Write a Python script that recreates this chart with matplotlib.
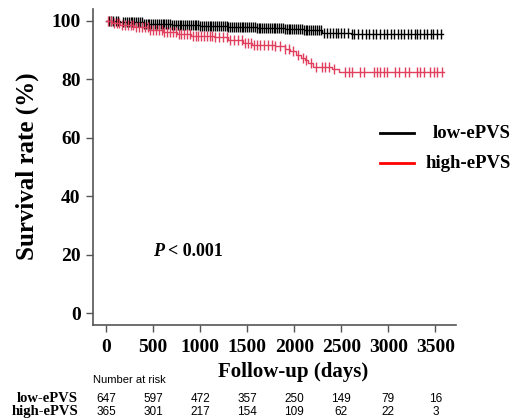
import numpy as np
import matplotlib
matplotlib.use('Agg')
import matplotlib.pyplot as plt

# step curves (day, survival %)
low_t = [0, 150, 400, 700, 1000, 1300, 1600, 1900, 2100, 2300, 2600]
low_s = [100, 99.5, 99.0, 98.6, 98.2, 97.8, 97.4, 97.0, 96.8, 95.9, 95.6]
low_end = 3580
high_t = [0, 60, 150, 300, 450, 600, 750, 900, 1150, 1300, 1450, 1550, 1800,
          1900, 1960, 2020, 2070, 2110, 2150, 2200, 2400, 2480]
high_s = [100, 99.3, 98.6, 97.8, 96.9, 96.2, 95.4, 94.8, 94.3, 93.5, 92.5, 91.8,
          91.2, 90.3, 89.5, 88.4, 87.2, 86.4, 85.5, 84.3, 83.6, 82.5]
high_end = 3590

# censoring times (days)
low_cens = [30, 50, 70, 100, 130, 180, 200, 220, 240, 260, 280, 300, 320, 340,
            360, 380, 400, 420, 440, 460, 480, 500, 520, 540, 560, 580, 600,
            620, 640, 660, 680, 700, 720, 740, 760, 780, 800, 820, 840, 860,
            880, 900, 920, 940, 960, 980, 1000, 1020, 1040, 1060, 1080, 1100,
            1120, 1140, 1160, 1180, 1200, 1220, 1240, 1260, 1280, 1300, 1320,
            1340, 1360, 1380, 1400, 1420, 1440, 1460, 1480, 1500, 1520, 1540,
            1560, 1580, 1600, 1620, 1640, 1660, 1680, 1700, 1720, 1740, 1760,
            1780, 1800, 1820, 1840, 1860, 1880, 1900, 1920, 1940, 1960, 1980,
            2000, 2020, 2040, 2060, 2080, 2100, 2120, 2140, 2160, 2180, 2200,
            2220, 2240, 2260, 2280, 2320, 2350, 2380, 2410, 2440, 2470, 2500,
            2530, 2570, 2610, 2640, 2680, 2720, 2760, 2800, 2840, 2870, 2910,
            2950, 2990, 3030, 3060, 3100, 3140, 3170, 3210, 3240, 3280, 3310,
            3340, 3380, 3410, 3450, 3480, 3520, 3560]
high_cens = [20, 50, 80, 110, 140, 170, 200, 230, 260, 290, 320, 350, 380, 410,
             440, 470, 500, 530, 560, 590, 620, 650, 680, 710, 740, 770, 800,
             830, 860, 890, 920, 950, 980, 1010, 1040, 1070, 1100, 1130, 1160,
             1200, 1240, 1280, 1320, 1360, 1400, 1440, 1480, 1510, 1540, 1570,
             1600, 1640, 1680, 1720, 1760, 1800, 1850, 1900, 1940, 1990, 2040,
             2090, 2130, 2180, 2230, 2295, 2330, 2365, 2418, 2543, 2578, 2613,
             2702, 2737, 2844, 2879, 2915, 2950, 2986, 3074, 3110, 3181, 3216,
             3305, 3340, 3376, 3447, 3482, 3518, 3571]

risk_times = [0, 500, 1000, 1500, 2000, 2500, 3000, 3500]
risk_low = [647, 597, 472, 357, 250, 149, 79, 16]
risk_high = [365, 301, 217, 154, 109, 62, 22, 3]

black = '#000000'
red = '#E0405E'
serif = 'Liberation Serif'
sans = 'Liberation Sans'

W, H = 512, 420
fig = plt.figure(figsize=(W / 100, H / 100), dpi=100)
ax = fig.add_axes([93 / W, 1 - 325 / H, (456 - 93) / W, (325 - 9) / H])


def draw(t, s, end, cens, color, mew):
    tt = np.array(t + [end])
    ss = np.array(s + [s[-1]])
    ax.step(tt, ss, where='post', color=color, lw=1.0)
    c = np.array(cens)
    idx = np.searchsorted(np.array(t), c, side='right') - 1
    ax.plot(c, np.array(s)[idx], ls='none', marker='|', ms=7, mew=mew, color=color)


draw(low_t, low_s, low_end, low_cens, black, 1.0)
draw(high_t, high_s, high_end, high_cens, red, 1.0)

ax.set_xlim(-140, 3720)
ax.set_ylim(-4.1, 104)
ax.set_xticks(risk_times)
ax.set_yticks([0, 20, 40, 60, 80, 100])
for sp in ['top', 'right']:
    ax.spines[sp].set_visible(False)
for sp in ['left', 'bottom']:
    ax.spines[sp].set_color('#555555')
    ax.spines[sp].set_linewidth(1.2)
ax.tick_params(direction='out', length=5, width=1.0, color='#555555',
               labelsize=14)
ax.tick_params(axis='y', pad=4)
ax.tick_params(axis='x', pad=5)
for lab in ax.get_xticklabels() + ax.get_yticklabels():
    lab.set_fontfamily(serif)
    lab.set_fontweight('bold')

fig.text(27 / W, 1 - 166 / H, 'Survival rate (%)', rotation=90, ha='center',
         va='center', fontsize=18, fontweight='bold', family=serif)
fig.text(293 / W, 1 - 372 / H, 'Follow-up (days)', ha='center', va='center',
         fontsize=15, fontweight='bold', family=serif)

# p value
fig.text(153 / W, 1 - 252 / H, 'P', ha='left', va='center', fontsize=13,
         fontweight='bold', style='italic', family=serif)
fig.text(168 / W, 1 - 252 / H, '< 0.001', ha='left', va='center', fontsize=13,
         fontweight='bold', family=serif)

# legend
fig.add_artist(plt.Line2D([380 / W, 414 / W], [1 - 133 / H, 1 - 133 / H],
                          color='black', lw=2))
fig.add_artist(plt.Line2D([380 / W, 414 / W], [1 - 163 / H, 1 - 163 / H],
                          color='#FF0000', lw=2))
fig.text(511 / W, 1 - 133 / H, 'low-ePVS', ha='right', va='center',
         fontsize=13.5, fontweight='bold', family=serif)
fig.text(511 / W, 1 - 163 / H, 'high-ePVS', ha='right', va='center',
         fontsize=13.5, fontweight='bold', family=serif)

# number at risk table
fig.text(93 / W, 1 - 380 / H, 'Number at risk', ha='left', va='center',
         fontsize=8, family=sans)
fig.text(78 / W, 1 - 399 / H, 'low-ePVS', ha='right', va='center',
         fontsize=10.5, fontweight='bold', family=serif)
fig.text(78 / W, 1 - 412 / H, 'high-ePVS', ha='right', va='center',
         fontsize=10.5, fontweight='bold', family=serif)
for tm, a, b in zip(risk_times, risk_low, risk_high):
    xf = fig.transFigure.inverted().transform(ax.transData.transform((tm, 0)))[0]
    fig.text(xf, 1 - 399 / H, str(a), ha='center', va='center', fontsize=8.5,
             family=sans)
    fig.text(xf, 1 - 412 / H, str(b), ha='center', va='center', fontsize=8.5,
             family=sans)

fig.savefig('out.png', dpi=100)
